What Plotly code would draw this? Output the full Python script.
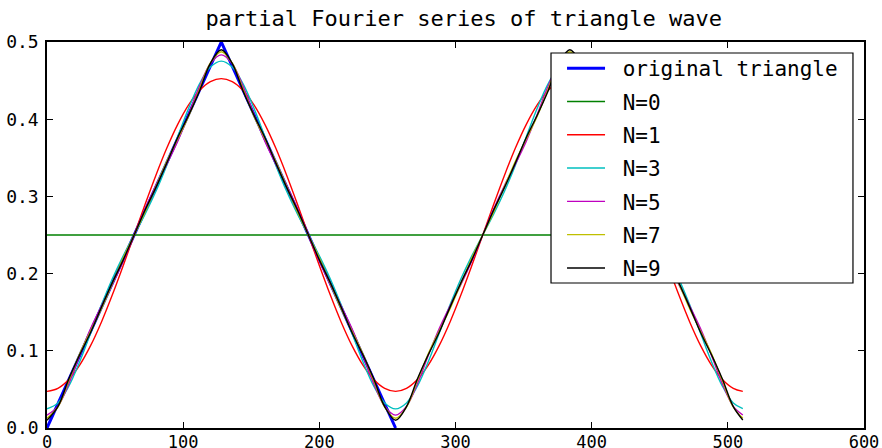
import plotly.graph_objects as go

# sample grid (x positions of the read values)
x_vals = list(range(0, 505, 8)) + [511]

tri_x = [0, 128, 256]
tri_y = [0.0, 0.5, 0.0]

n0_x = [0, 511]
n0_y = [0.25, 0.25]

n1_y = [0.0474, 0.0513, 0.0628, 0.0815, 0.1067, 0.1374, 0.1725, 0.2105, 0.2500, 0.2895, 0.3275, 0.3626, 0.3933, 0.4185, 0.4372, 0.4487, 0.4526,
        0.4487, 0.4372, 0.4185, 0.3933, 0.3626, 0.3275, 0.2895, 0.2500, 0.2105, 0.1725, 0.1374, 0.1067, 0.0815, 0.0628, 0.0513, 0.0474,
        0.0513, 0.0628, 0.0815, 0.1067, 0.1374, 0.1725, 0.2105, 0.2500, 0.2895, 0.3275, 0.3626, 0.3933, 0.4185, 0.4372, 0.4487, 0.4526,
        0.4487, 0.4372, 0.4185, 0.3933, 0.3626, 0.3275, 0.2895, 0.2500, 0.2105, 0.1725, 0.1374, 0.1067, 0.0815, 0.0628, 0.0513,
        0.0474]

n3_y = [0.0248, 0.0325, 0.0542, 0.0859, 0.1226, 0.1595, 0.1933, 0.2230, 0.2500, 0.2770, 0.3067, 0.3405, 0.3774, 0.4141, 0.4458, 0.4675, 0.4752,
        0.4675, 0.4458, 0.4141, 0.3774, 0.3405, 0.3067, 0.2770, 0.2500, 0.2230, 0.1933, 0.1595, 0.1226, 0.0859, 0.0542, 0.0325, 0.0248,
        0.0325, 0.0542, 0.0859, 0.1226, 0.1595, 0.1933, 0.2230, 0.2500, 0.2770, 0.3067, 0.3405, 0.3774, 0.4141, 0.4458, 0.4675, 0.4752,
        0.4675, 0.4458, 0.4141, 0.3774, 0.3405, 0.3067, 0.2770, 0.2500, 0.2230, 0.1933, 0.1595, 0.1226, 0.0859, 0.0542, 0.0325,
        0.0250]

n5_y = [0.0167, 0.0280, 0.0573, 0.0939, 0.1284, 0.1579, 0.1858, 0.2162, 0.2500, 0.2838, 0.3142, 0.3421, 0.3716, 0.4061, 0.4427, 0.4720, 0.4833,
        0.4720, 0.4427, 0.4061, 0.3716, 0.3421, 0.3142, 0.2838, 0.2500, 0.2162, 0.1858, 0.1579, 0.1284, 0.0939, 0.0573, 0.0280, 0.0167,
        0.0280, 0.0573, 0.0939, 0.1284, 0.1579, 0.1858, 0.2162, 0.2500, 0.2838, 0.3142, 0.3421, 0.3716, 0.4061, 0.4427, 0.4720, 0.4833,
        0.4720, 0.4427, 0.4061, 0.3716, 0.3421, 0.3142, 0.2838, 0.2500, 0.2162, 0.1858, 0.1579, 0.1284, 0.0939, 0.0573, 0.0280,
        0.0169]

n7_y = [0.0126, 0.0272, 0.0611, 0.0961, 0.1254, 0.1545, 0.1873, 0.2203, 0.2500, 0.2797, 0.3127, 0.3455, 0.3746, 0.4039, 0.4389, 0.4728, 0.4874,
        0.4728, 0.4389, 0.4039, 0.3746, 0.3455, 0.3127, 0.2797, 0.2500, 0.2203, 0.1873, 0.1545, 0.1254, 0.0961, 0.0611, 0.0272, 0.0126,
        0.0272, 0.0611, 0.0961, 0.1254, 0.1545, 0.1873, 0.2203, 0.2500, 0.2797, 0.3127, 0.3455, 0.3746, 0.4039, 0.4389, 0.4728, 0.4874,
        0.4728, 0.4389, 0.4039, 0.3746, 0.3455, 0.3127, 0.2797, 0.2500, 0.2203, 0.1873, 0.1545, 0.1254, 0.0961, 0.0611, 0.0272,
        0.0128]

n9_y = [0.0101, 0.0277, 0.0634, 0.0948, 0.1237, 0.1566, 0.1883, 0.2178, 0.2500, 0.2822, 0.3117, 0.3434, 0.3763, 0.4052, 0.4366, 0.4723, 0.4899,
        0.4723, 0.4366, 0.4052, 0.3763, 0.3434, 0.3117, 0.2822, 0.2500, 0.2178, 0.1883, 0.1566, 0.1237, 0.0948, 0.0634, 0.0277, 0.0101,
        0.0277, 0.0634, 0.0948, 0.1237, 0.1566, 0.1883, 0.2178, 0.2500, 0.2822, 0.3117, 0.3434, 0.3763, 0.4052, 0.4366, 0.4723, 0.4899,
        0.4723, 0.4366, 0.4052, 0.3763, 0.3434, 0.3117, 0.2822, 0.2500, 0.2178, 0.1883, 0.1566, 0.1237, 0.0948, 0.0634, 0.0277,
        0.0104]

x_ticks = [0, 100, 200, 300, 400, 500, 600]
y_ticks = [0.0, 0.1, 0.2, 0.3, 0.4, 0.5]

FONT = "DejaVu Sans Mono"
SP = "\u00a0"

fig = go.Figure()
fig.add_trace(go.Scatter(x=tri_x, y=tri_y, mode="lines", name=SP + "original triangle",
                         line=dict(color="#0000ff", width=3), legendgroup="a"))
fig.add_trace(go.Scatter(x=n0_x, y=n0_y, mode="lines", name=SP + "N=0",
                         line=dict(color="#008000", width=1.4), legendgroup="b"))
series = [("N=1", n1_y, "#ff0000"), ("N=3", n3_y, "#00bfbf"), ("N=5", n5_y, "#bf00bf"),
          ("N=7", n7_y, "#bfbf00"), ("N=9", n9_y, "#000000")]
for i, (nm, ys, col) in enumerate(series):
    fig.add_trace(go.Scatter(x=x_vals, y=ys, mode="lines", name=SP + nm,
                             line=dict(color=col, width=1.4, shape="spline"),
                             legendgroup="g%d" % i))

axis_common = dict(showgrid=False, zeroline=False, showline=True, linecolor="black", linewidth=1.5,
                   mirror="allticks", ticks="inside", ticklen=6, tickwidth=1, tickcolor="black",
                   automargin=False)

fig.update_layout(
    width=882, height=448,
    margin=dict(l=47, r=18, t=42, b=20),
    paper_bgcolor="white", plot_bgcolor="white",
    title=dict(text="partial Fourier series of triangle wave", x=0.51, xref="paper", xanchor="center",
               y=1 - 18 / 448, yref="container", yanchor="middle",
               font=dict(family=FONT, size=22, color="black")),
    xaxis=dict(range=[0, 600], tickvals=x_ticks, tickfont=dict(family=FONT, size=17, color="black"),
               **axis_common),
    yaxis=dict(range=[0, 0.5], tickvals=y_ticks, tickformat=".1f", ticklabelstandoff=3,
               tickfont=dict(family=FONT, size=18, color="black"), **axis_common),
    legend=dict(x=0.6304, xanchor="left", y=0.9845, yanchor="top",
                bgcolor="rgba(0,0,0,0)", borderwidth=0,
                font=dict(family=FONT, size=21, color="black"),
                itemwidth=38,
                tracegroupgap=3, traceorder="grouped"),
    shapes=[dict(type="rect", xref="paper", yref="paper", x0=0.6169, x1=0.9865, y0=0.3756, y1=0.9715,
                 fillcolor="white", line=dict(color="black", width=1.2), layer="above")],
    showlegend=True,
)

try:
    fig.update_xaxes(ticklabelstandoff=-2)
except Exception:
    pass

fig.write_html("out.html", config={"displayModeBar": False},
               post_script="document.body.style.margin='0';")
